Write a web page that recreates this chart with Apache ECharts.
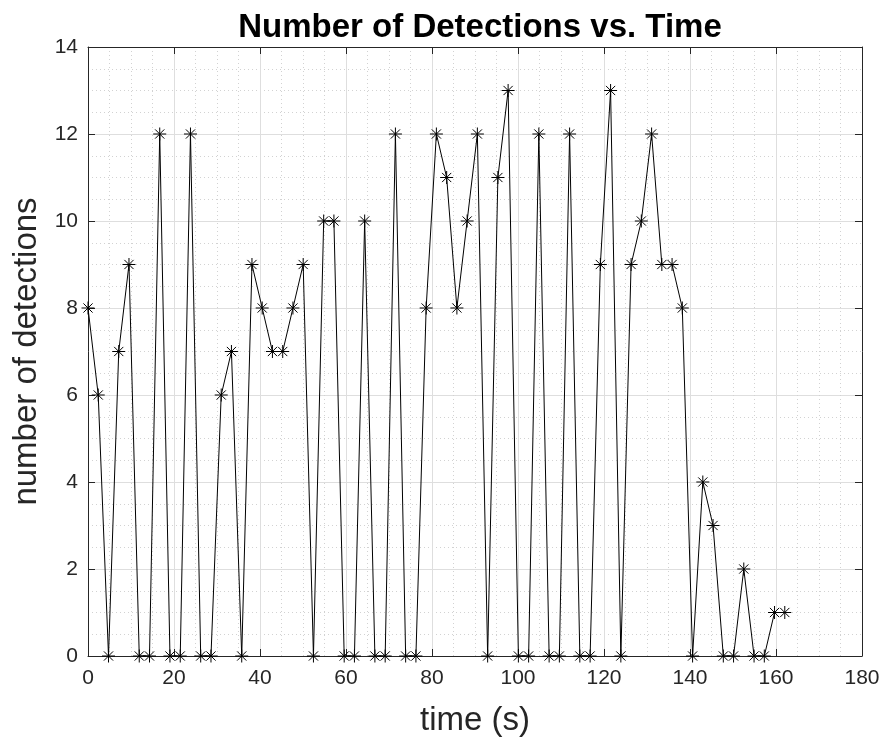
<!DOCTYPE html>
<html>
<head>
<meta charset="utf-8">
<title>Number of Detections vs. Time</title>
<script src="https://cdn.jsdelivr.net/npm/echarts@6/dist/echarts.min.js"></script>
<style>
  html, body { margin: 0; padding: 0; background: #ffffff; }
  #chart { width: 886px; height: 740px; }
</style>
</head>
<body>
<div id="chart"></div>
<script>
// Sample times (s) of each detection count
const times = [
  0, 2.38, 4.77, 7.15, 9.53, 11.92, 14.30, 16.68, 19.06, 21.45,
  23.83, 26.21, 28.60, 30.98, 33.36, 35.75, 38.13, 40.51, 42.89, 45.28,
  47.66, 50.04, 52.43, 54.81, 57.19, 59.58, 61.96, 64.34, 66.72, 69.11,
  71.49, 73.87, 76.26, 78.64, 81.02, 83.41, 85.79, 88.17, 90.55, 92.94,
  95.32, 97.70, 100.09, 102.47, 104.85, 107.24, 109.62, 112.00, 114.38, 116.77,
  119.15, 121.53, 123.92, 126.30, 128.68, 131.07, 133.45, 135.83, 138.21, 140.60,
  142.98, 145.36, 147.75, 150.13, 152.51, 154.90, 157.28, 159.66, 162.04
];

// Number of detections at each sample time
const detections = [
  8, 6, 0, 7, 9, 0, 0, 12, 0, 0,
  12, 0, 0, 6, 7, 0, 9, 8, 7, 7,
  8, 9, 0, 10, 10, 0, 0, 10, 0, 0,
  12, 0, 0, 8, 12, 11, 8, 10, 12, 0,
  11, 13, 0, 0, 12, 0, 0, 12, 0, 0,
  9, 13, 0, 9, 10, 12, 9, 9, 8, 0,
  4, 3, 0, 0, 2, 0, 0, 1, 1
];

// Axis ranges and tick spacing
const xRange = { min: 0, max: 180, interval: 20 };
const yRange = { min: 0, max: 14, interval: 2 };

const FONT = '"Liberation Sans", Arial, Helvetica, sans-serif';
const AXIS_COLOR = '#262626';

// Eight-armed asterisk marker, drawn as strokes only
const ASTERISK = 'path://M0,-10L0,10M-10,0L10,0M-7.07,-7.07L7.07,7.07M-7.07,7.07L7.07,-7.07';

const points = times.map((t, i) => [t, detections[i]]);

const chart = echarts.init(document.getElementById('chart'), null, { renderer: 'canvas' });

const mainAxisCommon = {
  axisLine: { show: true, onZero: false, lineStyle: { color: AXIS_COLOR, width: 1 } },
  axisTick: { show: true, inside: true, length: 7, lineStyle: { color: AXIS_COLOR, width: 1 } },
  splitLine: { show: true, lineStyle: { color: '#dedede', width: 1 } },
  minorTick: { show: false, splitNumber: 4 },
  minorSplitLine: { show: true, lineStyle: { color: '#d2d2d2', width: 1, type: [1, 3] } }
};

const mirrorAxisCommon = {
  axisLine: { show: true, onZero: false, lineStyle: { color: AXIS_COLOR, width: 1 } },
  axisTick: { show: true, inside: true, length: 7, lineStyle: { color: AXIS_COLOR, width: 1 } },
  axisLabel: { show: false },
  splitLine: { show: false }
};

chart.setOption({
  animation: false,
  backgroundColor: '#ffffff',
  title: {
    text: 'Number of Detections vs. Time',
    left: 475,
    textAlign: 'center',
    top: 6,
    textStyle: { fontFamily: FONT, fontWeight: 'bold', fontSize: 33, color: '#000000' }
  },
  grid: {
    left: 88, right: 24, top: 47, bottom: 84,
    containLabel: false,
    outerBoundsMode: 'none'
  },
  xAxis: [
    Object.assign({
      type: 'value',
      position: 'bottom',
      min: xRange.min, max: xRange.max, interval: xRange.interval,
      name: 'time (s)',
      nameLocation: 'middle',
      nameGap: 48,
      nameTextStyle: { fontFamily: FONT, fontSize: 33, color: AXIS_COLOR },
      axisLabel: { fontFamily: FONT, fontSize: 21, color: AXIS_COLOR, margin: 12 }
    }, mainAxisCommon),
    Object.assign({
      type: 'value',
      position: 'top',
      min: xRange.min, max: xRange.max, interval: xRange.interval
    }, mirrorAxisCommon)
  ],
  yAxis: [
    Object.assign({
      type: 'value',
      position: 'left',
      min: yRange.min, max: yRange.max, interval: yRange.interval,
      name: 'number of detections',
      nameLocation: 'middle',
      nameGap: 44,
      nameRotate: 90,
      nameTextStyle: { fontFamily: FONT, fontSize: 33, color: AXIS_COLOR },
      axisLabel: { fontFamily: FONT, fontSize: 21, color: AXIS_COLOR, margin: 10 }
    }, mainAxisCommon),
    Object.assign({
      type: 'value',
      position: 'right',
      min: yRange.min, max: yRange.max, interval: yRange.interval
    }, mirrorAxisCommon)
  ],
  series: [
    {
      type: 'line',
      xAxisIndex: 0,
      yAxisIndex: 0,
      data: points,
      symbol: ASTERISK,
      symbolSize: 13,
      showAllSymbol: true,
      lineStyle: { color: '#000000', width: 1 },
      itemStyle: { color: 'rgba(0,0,0,0)', borderColor: '#000000', borderWidth: 1 },
      emphasis: { disabled: true },
      silent: true,
      z: 3
    }
  ]
});
</script>
</body>
</html>
